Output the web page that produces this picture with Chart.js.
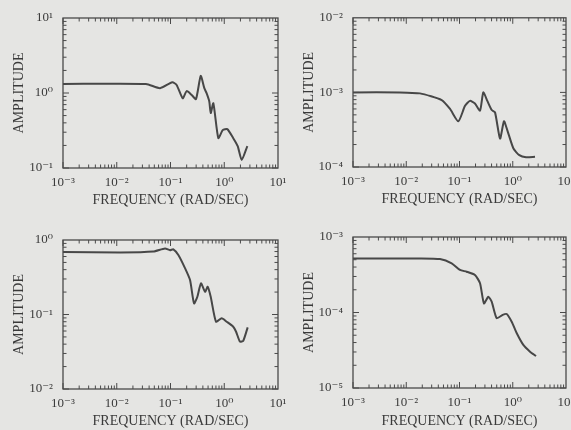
<!DOCTYPE html>
<html><head><meta charset="utf-8">
<script src="https://cdn.jsdelivr.net/npm/chart.js@4.4.1/dist/chart.umd.min.js"></script>
<style>
html,body{margin:0;padding:0;background:#e5e5e3;overflow:hidden;width:571px;height:430px;position:relative}
.w{position:absolute}
</style></head><body>
<div class="w" style="left:0;top:0;width:300px;height:215px"><canvas id="c1"></canvas></div>
<div class="w" style="left:290px;top:0;width:300px;height:215px"><canvas id="c2"></canvas></div>
<div class="w" style="left:0;top:215px;width:300px;height:215px"><canvas id="c3"></canvas></div>
<div class="w" style="left:290px;top:215px;width:300px;height:215px"><canvas id="c4"></canvas></div>
<script>
// ---- data ----
const xTitle = 'FREQUENCY (RAD/SEC)';
const yTitle = 'AMPLITUDE';
const xTickValues = [1e-3, 1e-2, 1e-1, 1, 10];
const xTickLabels = ['10⁻³', '10⁻²', '10⁻¹', '10⁰', '10¹'];

const freq1 = [0.001, 0.035, 0.064, 0.108, 0.130, 0.169, 0.200, 0.248, 0.298, 0.365, 0.426, 0.471, 0.527, 0.560, 0.627, 0.776, 0.936, 1.14, 1.47, 1.78, 2.11, 2.69];
const amp1  = [1.32, 1.32, 1.16, 1.39, 1.28, 0.85, 1.06, 0.94, 0.83, 1.69, 1.16, 0.99, 0.77, 0.54, 0.73, 0.25, 0.32, 0.33, 0.25, 0.196, 0.128, 0.196];
const yTicks1 = [0.1, 1, 10];
const yTickLabels1 = ['10⁻¹', '10⁰', '10¹'];

const freq2 = [0.001, 0.0076, 0.0181, 0.0463, 0.0664, 0.0951, 0.127, 0.157, 0.195, 0.243, 0.280, 0.333, 0.403, 0.465, 0.577, 0.685, 0.792, 1.03, 1.33, 1.78, 2.62];
const amp2  = [1.0e-3, 1.0e-3, 0.97e-3, 0.79e-3, 0.60e-3, 0.41e-3, 0.66e-3, 0.77e-3, 0.71e-3, 0.57e-3, 1.0e-3, 0.77e-3, 0.58e-3, 0.54e-3, 0.24e-3, 0.41e-3, 0.31e-3, 0.177e-3, 0.144e-3, 0.135e-3, 0.137e-3];
const yTicks2 = [1e-4, 1e-3, 1e-2];
const yTickLabels2 = ['10⁻⁴', '10⁻³', '10⁻²'];

const freq3 = [0.001, 0.0115, 0.0479, 0.079, 0.098, 0.113, 0.140, 0.186, 0.231, 0.274, 0.316, 0.369, 0.439, 0.492, 0.560, 0.703, 0.895, 1.11, 1.47, 1.66, 1.96, 2.26, 2.73];
const amp3  = [0.69, 0.68, 0.70, 0.77, 0.73, 0.75, 0.63, 0.42, 0.29, 0.141, 0.173, 0.262, 0.202, 0.236, 0.173, 0.080, 0.089, 0.080, 0.0685, 0.0587, 0.0432, 0.0445, 0.0673];
const yTicks3 = [0.01, 0.1, 1];
const yTickLabels3 = ['10⁻²', '10⁻¹', '10⁰'];

const freq4 = [0.001, 0.0181, 0.043, 0.0713, 0.102, 0.136, 0.195, 0.243, 0.288, 0.348, 0.402, 0.499, 0.647, 0.769, 0.955, 1.19, 1.58, 2.11, 2.74];
const amp4  = [5.2e-4, 5.2e-4, 5.1e-4, 4.49e-4, 3.66e-4, 3.47e-4, 3.14e-4, 2.44e-4, 1.32e-4, 1.62e-4, 1.39e-4, 0.84e-4, 0.93e-4, 0.955e-4, 0.755e-4, 0.531e-4, 0.372e-4, 0.303e-4, 0.265e-4];
const yTicks4 = [1e-5, 1e-4, 1e-3];
const yTickLabels4 = ['10⁻⁵', '10⁻⁴', '10⁻³'];

// ---- drawing ----
const FONT = "'Liberation Serif','DejaVu Serif',serif";
const INK = '#3a3a3a';

const boxPlugin = {
  id: 'boxTicks',
  afterDatasetsDraw(chart) {
    const {ctx, chartArea: a, scales: {x, y}} = chart;
    const vals = (min, max) => {
      const out = [];
      const e0 = Math.round(Math.log10(min)), e1 = Math.round(Math.log10(max));
      for (let e = e0; e < e1; e++) for (let k = 1; k < 10; k++) out.push([k * Math.pow(10, e), k === 1]);
      return out;
    };
    ctx.save();
    ctx.strokeStyle = '#4a4a4a';
    ctx.lineWidth = 1.3;
    ctx.strokeRect(a.left, a.top, a.right - a.left, a.bottom - a.top);
    ctx.lineWidth = 1;
    ctx.beginPath();
    for (const [v, maj] of vals(x.min, x.max)) {
      const p = x.getPixelForValue(v), L = maj ? 6 : 3.5;
      ctx.moveTo(p, a.bottom); ctx.lineTo(p, a.bottom - L);
      ctx.moveTo(p, a.top); ctx.lineTo(p, a.top + L);
    }
    for (const [v, maj] of vals(y.min, y.max)) {
      const p = y.getPixelForValue(v), L = maj ? 6 : 3.5;
      ctx.moveTo(a.left, p); ctx.lineTo(a.left + L, p);
      ctx.moveTo(a.right, p); ctx.lineTo(a.right - L, p);
    }
    ctx.stroke();
    ctx.restore();
  }
};

function makeChart(id, freq, amp, yTicks, yLabels, lay) {
  new Chart(document.getElementById(id), {
    type: 'scatter',
    data: {datasets: [{
      data: freq.map((f, i) => ({x: f, y: amp[i]})),
      showLine: true, borderColor: '#474747', borderWidth: 2,
      pointRadius: 0, tension: 0.2, fill: false
    }]},
    options: {
      responsive: true, maintainAspectRatio: false, animation: false, events: [],
      layout: {padding: {top: lay.top, right: lay.right, left: 0, bottom: 0}},
      plugins: {legend: {display: false}, tooltip: {enabled: false}},
      scales: {
        x: {
          type: 'logarithmic', min: xTickValues[0], max: xTickValues[xTickValues.length - 1],
          grid: {display: false, drawTicks: false}, border: {display: false},
          afterBuildTicks: s => { s.ticks = xTickValues.map(v => ({value: v})); },
          afterFit: s => { s.height = lay.xH; },
          ticks: {autoSkip: false, maxRotation: 0, padding: 7, color: INK,
            font: {family: FONT, size: 13},
            callback: (v, i) => xTickLabels[i]},
          title: {display: true, text: xTitle, color: INK,
            font: {family: FONT, size: 14}, padding: {top: 0, bottom: lay.tb}}
        },
        y: {
          type: 'logarithmic', min: yTicks[0], max: yTicks[yTicks.length - 1],
          grid: {display: false, drawTicks: false}, border: {display: false},
          afterBuildTicks: s => { s.ticks = yTicks.map(v => ({value: v})); },
          afterFit: s => { s.width = lay.yW; },
          ticks: {autoSkip: false, padding: 10, color: INK,
            font: {family: FONT, size: 13},
            callback: (v, i) => yLabels[i]},
          title: {display: true, text: yTitle, color: INK,
            font: {family: FONT, size: 14}, padding: {top: 11, bottom: 0}}
        }
      }
    },
    plugins: [boxPlugin]
  });
}

makeChart('c1', freq1, amp1, yTicks1, yTickLabels1, {top: 18, right: 22, yW: 63, xH: 47, tb: 6});
makeChart('c2', freq2, amp2, yTicks2, yTickLabels2, {top: 16, right: 24, yW: 63, xH: 48, tb: 7});
makeChart('c3', freq3, amp3, yTicks3, yTickLabels3, {top: 25, right: 22, yW: 63, xH: 41, tb: 0});
makeChart('c4', freq4, amp4, yTicks4, yTickLabels4, {top: 22, right: 24, yW: 63, xH: 42, tb: 0});
</script>
</body></html>
